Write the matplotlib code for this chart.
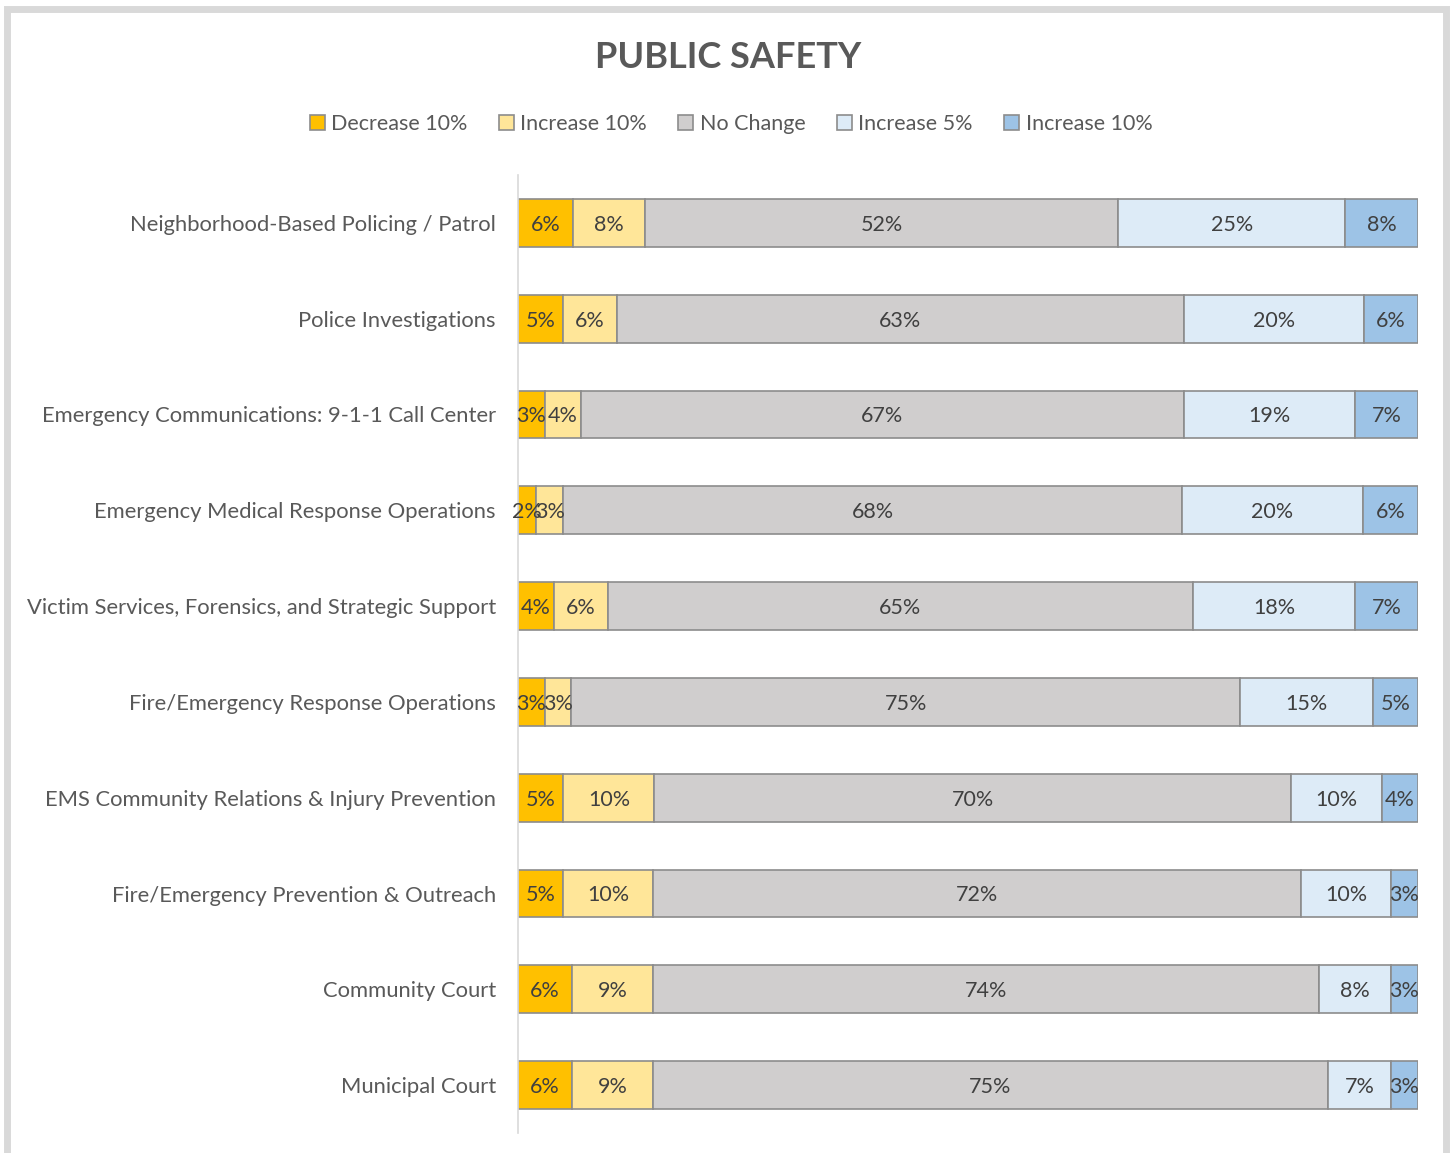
import numpy as np
import matplotlib.pyplot as plt
from matplotlib.patches import Rectangle

# 카테고리 (위에서 아래 순서)
categories = [
    "Neighborhood-Based Policing / Patrol",
    "Police Investigations",
    "Emergency Communications: 9-1-1 Call Center",
    "Emergency Medical Response Operations",
    "Victim Services, Forensics, and Strategic Support",
    "Fire/Emergency Response Operations",
    "EMS Community Relations & Injury Prevention",
    "Fire/Emergency Prevention & Outreach",
    "Community Court",
    "Municipal Court",
]

series_names = ["Decrease 10%", "Increase 10%", "No Change", "Increase 5%", "Increase 10%"]

decrease_10 = [6, 5, 3, 2, 4, 3, 5, 5, 6, 6]
increase_10_a = [8, 6, 4, 3, 6, 3, 10, 10, 9, 9]
no_change = [52, 63, 67, 68, 65, 75, 70, 72, 74, 75]
increase_5 = [25, 20, 19, 20, 18, 15, 10, 10, 8, 7]
increase_10_b = [8, 6, 7, 6, 7, 5, 4, 3, 3, 3]

colors = ["#FFC000", "#FFE699", "#D0CECE", "#DDEBF7", "#9DC3E6"]

plt.rcParams['font.family'] = ['Lato', 'DejaVu Sans']

values = np.array([decrease_10, increase_10_a, no_change, increase_5, increase_10_b], dtype=float)
shares = values / values.sum(axis=0) * 100  # 100% 누적 막대

fig = plt.figure(figsize=(14.5, 11.53), dpi=100)
ax = fig.add_axes([518 / 1450, 1 - 1133 / 1153, 900 / 1450, (1133 - 175) / 1153])

y = np.arange(len(categories))
left = np.zeros(len(categories))
for i in range(len(series_names)):
    bars = ax.barh(y, shares[i], left=left, height=0.5, color=colors[i],
                   edgecolor="#8C8C8C", linewidth=1.2, label=series_names[i])
    for j, b in enumerate(bars):
        ax.text(left[j] + shares[i][j] / 2, y[j] + 0.02, f"{int(values[i][j])}%",
                ha="center", va="center", fontsize=15.5, color="#404040")
    left += shares[i]

ax.set_xlim(0, 100)
ax.set_ylim(len(categories) - 0.5, -0.5)
ax.set_yticks(y)
ax.set_yticklabels(categories, fontsize=15.8, color="#595959")
ax.tick_params(axis="y", length=0, pad=16)
ax.set_xticks([])
for s in ["top", "right", "bottom"]:
    ax.spines[s].set_visible(False)
ax.spines["left"].set_color("#D9D9D9")
ax.spines["left"].set_linewidth(1.2)

fig.text(728 / 1450, 1 - 58 / 1153, "PUBLIC SAFETY", ha="center", va="center",
         fontsize=26, fontweight="bold", color="#595959")

fig.legend(loc="center", bbox_to_anchor=(731 / 1450, 1 - 124 / 1153), ncol=5,
           frameon=False, fontsize=15.5, handlelength=0.7, handleheight=0.7,
           handletextpad=0.3, columnspacing=1.45, labelcolor="#595959")

# 바깥 회색 테두리
fig.patches.append(Rectangle((7 / 1450, -0.05), 1439 / 1450, 1.05 - 9 / 1153,
                             transform=fig.transFigure, fill=False,
                             edgecolor="#D9D9D9", linewidth=5))

fig.savefig("out.png", dpi=100)
